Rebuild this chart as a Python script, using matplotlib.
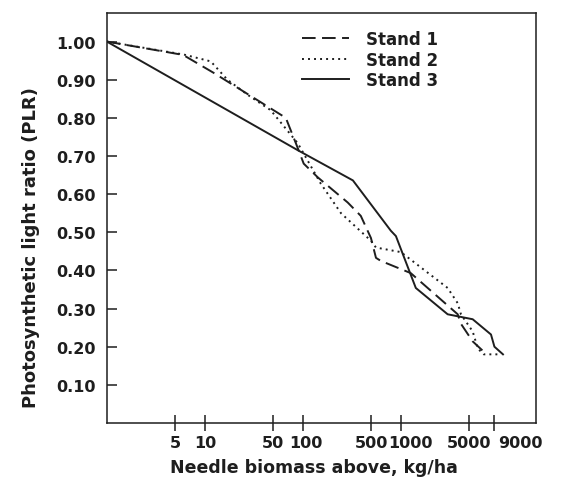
import numpy as np
import matplotlib.pyplot as plt
from matplotlib.transforms import ScaledTranslation

# values
stand1_x = [1, 6, 12.3, 67, 89, 102, 142, 287, 390, 495, 557, 624, 1260, 3800, 4100, 5400, 7000, 7300]
stand1_y = [1.00, 0.965, 0.918, 0.80, 0.72, 0.68, 0.644, 0.578, 0.543, 0.485, 0.433, 0.425, 0.393, 0.285, 0.26, 0.214, 0.187, 0.18]

stand2_x = [1, 6.1, 11.5, 17, 27.5, 47, 89, 152, 245, 494, 557, 1000, 3000, 3800, 4100, 5400, 6100, 7000, 10400]
stand2_y = [1.00, 0.966, 0.948, 0.90, 0.86, 0.82, 0.733, 0.628, 0.55, 0.478, 0.46, 0.448, 0.354, 0.314, 0.285, 0.24, 0.195, 0.18, 0.18]

stand3_x = [1, 89, 324, 790, 890, 1420, 3000, 5400, 8300, 9000, 11000]
stand3_y = [1.00, 0.715, 0.636, 0.504, 0.49, 0.354, 0.285, 0.272, 0.232, 0.20, 0.18]

xticks = [5, 10, 50, 100, 500, 1000, 5000, 9000]
yticks = [0.10, 0.20, 0.30, 0.40, 0.50, 0.60, 0.70, 0.80, 0.90, 1.00]

ink = "#1e1e1e"
plt.rcParams['font.family'] = ['DejaVu Sans']
plt.rcParams['font.weight'] = 'bold'

fig = plt.figure(figsize=(5.68, 4.81), dpi=100)
ax = fig.add_axes([0.188, 0.1185, 0.756, 0.8525])

lw = 1.4
ax.plot(stand1_x, stand1_y, color=ink, lw=lw, linestyle=(0, (7, 3.3)), label="Stand 1")
ax.plot(stand2_x, stand2_y, color=ink, lw=lw, linestyle=(0, (1, 2.1)), label="Stand 2")
ax.plot(stand3_x, stand3_y, color=ink, lw=lw, linestyle="-", label="Stand 3")

ax.set_xscale("log")
ax.set_xlim(1, 24000)
ax.set_ylim(0, 1.075)

ax.set_xticks(xticks)
ax.set_xticklabels([str(t) for t in xticks])
ax.xaxis.set_minor_locator(plt.NullLocator())
ax.set_yticks(yticks)
ax.set_yticklabels(["%.2f" % t for t in yticks])

ax.tick_params(axis="x", direction="inout", length=11, width=1.1, color=ink,
               labelsize=11.5, labelcolor=ink, pad=3)
ax.tick_params(axis="y", direction="in", length=7.5, width=1.1, color=ink,
               labelsize=11.5, labelcolor=ink, pad=8)
for s in ax.spines.values():
    s.set_linewidth(1.1)
    s.set_color(ink)

# crowded labels sit a little right of their ticks in the original
shift = {100: 3, 1000: 10, 9000: 26}
for t, lab in zip(xticks, ax.get_xticklabels()):
    if t in shift:
        lab.set_transform(lab.get_transform() + ScaledTranslation(shift[t] / 100, 0, fig.dpi_scale_trans))

ax.set_xlabel("Needle biomass above, kg/ha", fontsize=12.5, fontweight="bold", color=ink)
ax.xaxis.set_label_coords(0.483, -0.085)
ax.set_ylabel("Photosynthetic light ratio (PLR)", fontsize=13, fontweight="bold", color=ink)
ax.yaxis.set_label_coords(-0.155, 0.43)

ax.legend(loc="upper left", bbox_to_anchor=(0.436, 0.978), frameon=False,
          fontsize=12, handlelength=2.8, handletextpad=1.0, labelspacing=0.15,
          borderpad=0, labelcolor=ink)

fig.savefig("out.png", dpi=100)
